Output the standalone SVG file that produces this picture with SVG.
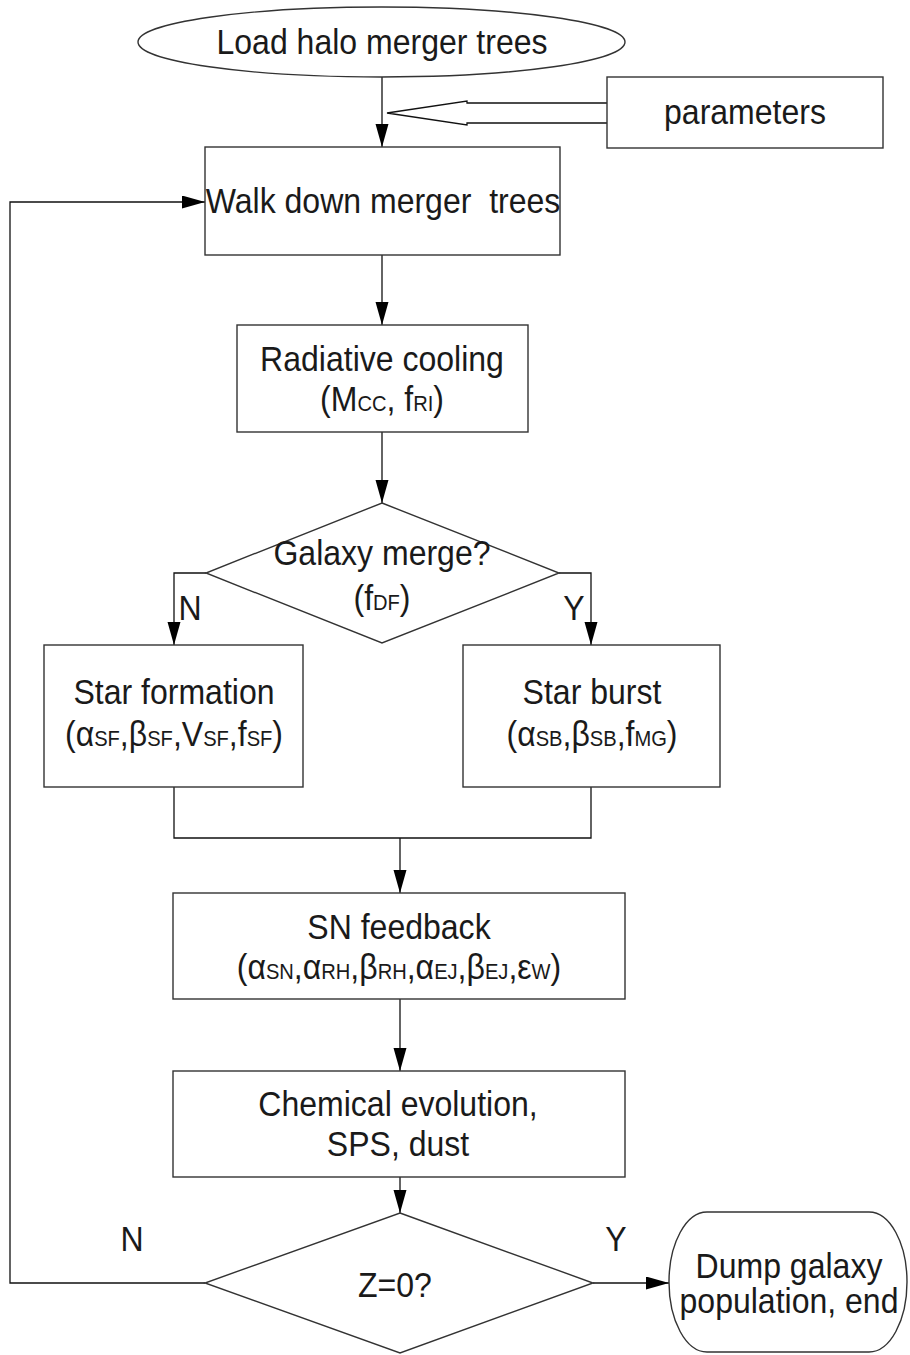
<svg xmlns="http://www.w3.org/2000/svg" width="910" height="1355" viewBox="0 0 910 1355">
<defs>
<style>
.n{fill:#fff;stroke:#333;stroke-width:1.4}
.c{fill:none;stroke:#111;stroke-width:1.3}
.t{font-family:"Liberation Sans",Arial,sans-serif;font-size:35px;fill:#1a1a1a;text-anchor:middle}
.s{font-size:22px}
</style>
<marker id="ah" markerWidth="24" markerHeight="14" refX="23" refY="6.5" orient="auto" markerUnits="userSpaceOnUse">
<path d="M0,0 L23,6.5 L0,13 Z" fill="#000"/>
</marker>
</defs>
<rect width="910" height="1355" fill="#fff"/>
<g id="connectors">
<path class="c" d="M382,77 V147" marker-end="url(#ah)"/>
<path class="c" d="M607,103 H467 V101 L387,113 L467,125 V123 H607" fill="#fff"/>
<path class="c" d="M382,255 V325" marker-end="url(#ah)"/>
<path class="c" d="M382,432 V503" marker-end="url(#ah)"/>
<path class="c" d="M206,573 H174 V645" marker-end="url(#ah)"/>
<path class="c" d="M559,573 H591 V645" marker-end="url(#ah)"/>
<path class="c" d="M174,787 V838 H591 V787"/>
<path class="c" d="M400,838 V893" marker-end="url(#ah)"/>
<path class="c" d="M400,999 V1071" marker-end="url(#ah)"/>
<path class="c" d="M400,1177 V1213" marker-end="url(#ah)"/>
<path class="c" d="M205,1283 H10 V202 H205" marker-end="url(#ah)"/>
<path class="c" d="M593,1283 H669" marker-end="url(#ah)"/>
</g>
<g id="load">
<ellipse class="n" cx="381.5" cy="42" rx="243.5" ry="35"/>
<text class="t" transform="translate(382,54) scale(.915,1)">Load halo merger trees</text>
</g>
<g id="parameters">
<rect class="n" x="607" y="77" width="276" height="71"/>
<text class="t" transform="translate(745,124) scale(.915,1)">parameters</text>
</g>
<g id="walk">
<rect class="n" x="205" y="147" width="355" height="108"/>
<text class="t" xml:space="preserve" transform="translate(383,213) scale(.915,1)">Walk down merger  trees</text>
</g>
<g id="cooling">
<rect class="n" x="237" y="325" width="291" height="107"/>
<text class="t" transform="translate(382,371) scale(.915,1)">Radiative cooling</text>
<text class="t" transform="translate(382,411) scale(.915,1)">(M<tspan class="s">CC</tspan>, f<tspan class="s">RI</tspan>)</text>
</g>
<g id="merge">
<polygon class="n" points="382,503 559,573 382,643 206,573"/>
<text class="t" transform="translate(382,565) scale(.915,1)">Galaxy merge?</text>
<text class="t" transform="translate(382,610) scale(.915,1)">(f<tspan class="s">DF</tspan>)</text>
</g>
<text class="t" transform="translate(190,620) scale(.915,1)">N</text>
<text class="t" transform="translate(574,620) scale(.915,1)">Y</text>
<g id="starformation">
<rect class="n" x="44" y="645" width="259" height="142"/>
<text class="t" transform="translate(174,704) scale(.915,1)">Star formation</text>
<text class="t" transform="translate(174,746) scale(.915,1)">(α<tspan class="s">SF</tspan>,β<tspan class="s">SF</tspan>,V<tspan class="s">SF</tspan>,f<tspan class="s">SF</tspan>)</text>
</g>
<g id="starburst">
<rect class="n" x="463" y="645" width="257" height="142"/>
<text class="t" transform="translate(592,704) scale(.915,1)">Star burst</text>
<text class="t" transform="translate(592,746) scale(.915,1)">(α<tspan class="s">SB</tspan>,β<tspan class="s">SB</tspan>,f<tspan class="s">MG</tspan>)</text>
</g>
<g id="snfeedback">
<rect class="n" x="173" y="893" width="452" height="106"/>
<text class="t" transform="translate(399,939) scale(.915,1)">SN feedback</text>
<text class="t" transform="translate(399,979) scale(.915,1)">(α<tspan class="s">SN</tspan>,α<tspan class="s">RH</tspan>,β<tspan class="s">RH</tspan>,α<tspan class="s">EJ</tspan>,β<tspan class="s">EJ</tspan>,ε<tspan class="s">W</tspan>)</text>
</g>
<g id="chemical">
<rect class="n" x="173" y="1071" width="452" height="106"/>
<text class="t" transform="translate(398,1116) scale(.915,1)">Chemical evolution,</text>
<text class="t" transform="translate(398,1156) scale(.915,1)">SPS, dust</text>
</g>
<g id="z0">
<polygon class="n" points="400,1213 593,1283 400,1353 205,1283"/>
<text class="t" transform="translate(395,1297) scale(.915,1)">Z=0?</text>
</g>
<text class="t" transform="translate(132,1251) scale(.915,1)">N</text>
<text class="t" transform="translate(616,1251) scale(.915,1)">Y</text>
<g id="dump">
<rect class="n" x="669" y="1212" width="238" height="140" rx="38" ry="70"/>
<text class="t" transform="translate(789,1278) scale(.915,1)">Dump galaxy</text>
<text class="t" transform="translate(789,1313) scale(.915,1)">population, end</text>
</g>
</svg>
